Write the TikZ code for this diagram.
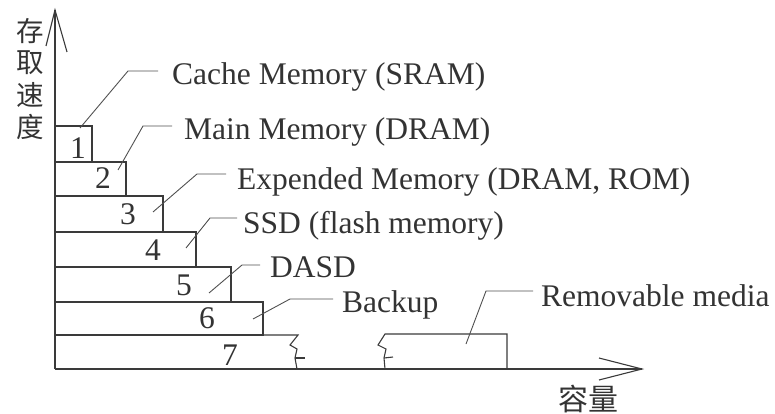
\documentclass[tikz,border=0pt]{standalone}
\usepackage{fontspec}
\setmainfont{Liberation Serif}
\newfontfamily\cjk{Noto Sans CJK SC}
\definecolor{txtgray}{HTML}{333333}
\definecolor{boxgray}{HTML}{3A3A3A}
\definecolor{leadgray}{HTML}{505050}
\begin{document}
\begin{tikzpicture}[x=1pt,y=-1pt]
\useasboundingbox (0,0) rectangle (775,414);
\tikzset{
  frame/.style={draw=boxgray, line width=1.1pt, line join=miter},
  leader/.style={draw=leadgray, line width=0.9pt},
  axisline/.style={draw=boxgray, line width=1.1pt},
  lbl/.style={anchor=base west, inner sep=0pt, text=txtgray,
              font=\fontsize{31.5}{31.5}\selectfont},
  num/.style={anchor=base, inner sep=0pt, text=txtgray,
              font=\fontsize{31.5}{31.5}\selectfont},
  hanzi/.style={inner sep=0pt, text=txtgray, font=\cjk\fontsize{27.5}{27.5}\selectfont}
}

% axes with open V heads
\coordinate (origin) at (55,369);
\coordinate (ytip) at (55,10);
\coordinate (xtip) at (642,369);
\draw[axisline] (origin) -- (ytip);
\draw[axisline] (46,46) -- (ytip) -- (67,52);
\draw[axisline] (origin) -- (xtip);
\draw[axisline] (599,358) -- (xtip) -- (599,380);

% axis captions
\node[hanzi] (v1) at (30,31) {存};
\node[hanzi] (v2) at (30,63) {取};
\node[hanzi] (v3) at (30,95) {速};
\node[hanzi] (v4) at (30,127) {度};
\node[hanzi, font=\cjk\fontsize{30}{30}\selectfont] (cap) at (588,399) {容量};

% storage levels
\draw[frame] (55,126) rectangle (92,162);
\draw[frame] (55,162) rectangle (126,196);
\draw[frame] (55,196) rectangle (163,232);
\draw[frame] (55,232) rectangle (196,267);
\draw[frame] (55,267) rectangle (231,302);
\draw[frame] (55,302) rectangle (263,335);
% level 7 with break marks
\draw[frame] (55,335) -- (298,335) -- (290,345) -- (297,349) -- (295,358) -- (297,369);
\draw[frame] (295,358) -- (305,358);
\draw[frame] (507,369) -- (507,334) -- (385,334) -- (378,345) -- (386,349) -- (384,358) -- (385,369);
\draw[frame] (384,358) -- (393,357);

% level numbers
\node[num] (n1) at (78,159) {1};
\node[num] (n2) at (103,188) {2};
\node[num] (n3) at (128,224) {3};
\node[num] (n4) at (153,260) {4};
\node[num] (n5) at (184,295) {5};
\node[num] (n6) at (207,328) {6};
\node[num] (n7) at (230,365) {7};

% labels
\node[lbl] (t1) at (172,85) {Cache Memory (SRAM)};
\node[lbl] (t2) at (184,140) {Main Memory (DRAM)};
\node[lbl] (t3) at (237,189) {Expended Memory (DRAM, ROM)};
\node[lbl] (t4) at (243,233) {SSD (flash memory)};
\node[lbl] (t5) at (270,277) {DASD};
\node[lbl] (t6) at (342,312) {Backup};
\node[lbl] (t7) at (541,306) {Removable media};

% leader lines
\coordinate (a1) at (80,128);  \coordinate (b1) at (128,71);  \coordinate (c1) at (158,71);
\coordinate (a2) at (118,170); \coordinate (b2) at (143,126); \coordinate (c2) at (172,126);
\coordinate (a3) at (153,212); \coordinate (b3) at (197,174); \coordinate (c3) at (226,174);
\coordinate (a4) at (186,248); \coordinate (b4) at (210,218); \coordinate (c4) at (237,218);
\coordinate (a5) at (209,293); \coordinate (b5) at (242,265); \coordinate (c5) at (260,265);
\coordinate (a6) at (253,319); \coordinate (b6) at (290,299); \coordinate (c6) at (333,299);
\coordinate (a7) at (466,344); \coordinate (b7) at (486,291); \coordinate (c7) at (533,291);
\foreach \i in {1,...,7} {
  \draw[leader] (a\i) -- (b\i) -- (c\i);
}
\end{tikzpicture}
\end{document}
